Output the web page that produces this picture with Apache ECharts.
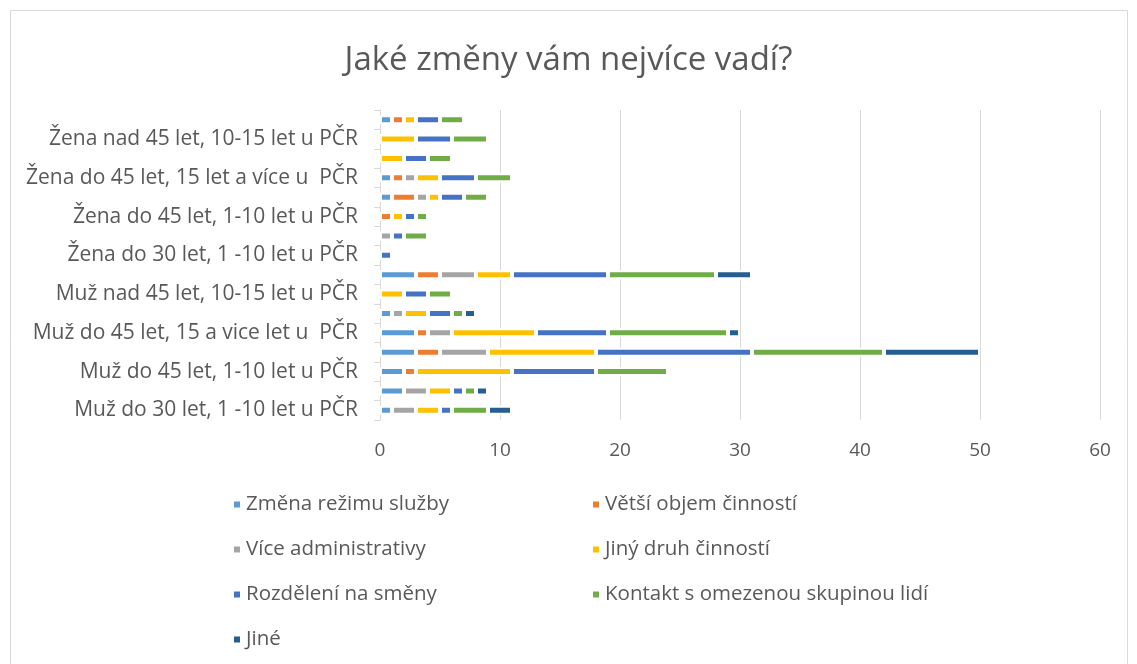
<!DOCTYPE html>
<html>
<head>
<meta charset="utf-8">
<script src="https://cdn.jsdelivr.net/npm/echarts@6/dist/echarts.min.js"></script>
<style>
html, body { margin: 0; padding: 0; background: #fff; }
#chart { width: 1137px; height: 664px; }
</style>
</head>
<body>
<div id="chart"></div>
<script>
// kategorie odspodu nahoru (každá druhá je v grafu skrytá)
var categories = [
  'Muž do 30 let, 1 -10 let u PČR',
  'Muž do 30 let, do 1 roku u PČR',
  'Muž do 45 let, 1-10 let u PČR',
  'Muž do 45 let, 10-15 let u PČR',
  'Muž do 45 let, 15 a vice let u  PČR',
  'Muž nad 45 let, 1-10 let u PČR',
  'Muž nad 45 let, 10-15 let u PČR',
  'Muž nad 45 let, 15 a více let u PČR',
  'Žena do 30 let, 1 -10 let u PČR',
  'Žena do 30 let, do 1 roku u PČR',
  'Žena do 45 let, 1-10 let u PČR',
  'Žena do 45 let, 10-15 let u PČR',
  'Žena do 45 let, 15 let a více u  PČR',
  'Žena nad 45 let, 1-10 let u PČR',
  'Žena nad 45 let, 10-15 let u PČR',
  'Žena nad 45 let, 15 a více let u PČR'
];

var zmenaRezimu   = [1, 2, 2, 3, 3, 1, 0, 3, 0, 0, 0, 1, 1, 0, 0, 1];
var vetsiObjem    = [0, 0, 1, 2, 1, 0, 0, 2, 0, 0, 1, 2, 1, 0, 0, 1];
var viceAdmin     = [2, 2, 0, 4, 2, 1, 0, 3, 0, 1, 0, 1, 1, 0, 0, 0];
var jinyDruh      = [2, 2, 8, 9, 7, 2, 2, 3, 0, 0, 1, 1, 2, 2, 3, 1];
var rozdeleni     = [1, 1, 7, 13, 6, 2, 2, 8, 1, 1, 1, 2, 3, 2, 3, 2];
var kontakt       = [3, 1, 6, 11, 10, 1, 2, 9, 0, 2, 1, 2, 3, 2, 3, 2];
var jine          = [2, 1, 0, 8, 1, 1, 0, 3, 0, 0, 0, 0, 0, 0, 0, 0];

var xTicks = [0, 10, 20, 30, 40, 50, 60];

var seriesDefs = [
  { name: 'Změna režimu služby', data: zmenaRezimu, color: '#5B9BD5' },
  { name: 'Větší objem činností', data: vetsiObjem, color: '#ED7D31' },
  { name: 'Více administrativy', data: viceAdmin, color: '#A5A5A5' },
  { name: 'Jiný druh činností', data: jinyDruh, color: '#FFC000' },
  { name: 'Rozdělení na směny', data: rozdeleni, color: '#4472C4' },
  { name: 'Kontakt s omezenou skupinou lidí', data: kontakt, color: '#70AD47' },
  { name: 'Jiné', data: jine, color: '#255E91' }
];

var font = '"Open Sans", sans-serif';
var chart = echarts.init(document.getElementById('chart'));

var option = {
  animation: false,
  backgroundColor: '#fff',
  textStyle: { fontFamily: font },
  graphic: [{
    type: 'rect',
    shape: { x: 10.5, y: 10.5, width: 1117, height: 700 },
    style: { fill: 'none', stroke: '#d9d9d9', lineWidth: 1 },
    silent: true
  }],
  title: {
    text: 'Jaké změny vám nejvíce vadí?',
    left: 'center',
    top: 39,
    textStyle: { fontFamily: font, fontSize: 33, fontWeight: 'normal', color: '#595959' }
  },
  grid: { left: 380, right: 37, top: 110, bottom: 244 },
  xAxis: {
    type: 'value',
    min: xTicks[0],
    max: xTicks[xTicks.length - 1],
    interval: 10,
    axisLine: { show: false },
    axisTick: { show: false },
    axisLabel: { fontSize: 19, color: '#595959', margin: 21, fontFamily: font },
    splitLine: { lineStyle: { color: '#d9d9d9', width: 1 } }
  },
  yAxis: {
    type: 'category',
    data: categories,
    axisLine: { lineStyle: { color: '#d9d9d9', width: 1 } },
    axisTick: { show: true, interval: 0, length: 6, lineStyle: { color: '#d9d9d9' } },
    axisLabel: { interval: 1, fontSize: 21, color: '#595959', margin: 22, fontFamily: font }
  },
  legend: {
    left: 232,
    top: 487,
    width: 720,
    padding: 0,
    itemWidth: 8,
    itemHeight: 8,
    itemGap: 10,
    icon: 'rect',
    textStyle: { fontSize: 20.5, color: '#595959', width: 335, lineHeight: 35, fontFamily: font }
  },
  series: seriesDefs.map(function (s) {
    return {
      name: s.name,
      type: 'bar',
      stack: 'total',
      barWidth: 9,
      data: s.data,
      itemStyle: { color: s.color, borderColor: '#fff', borderWidth: 2 }
    };
  })
};

chart.setOption(option);
</script>
</body>
</html>
